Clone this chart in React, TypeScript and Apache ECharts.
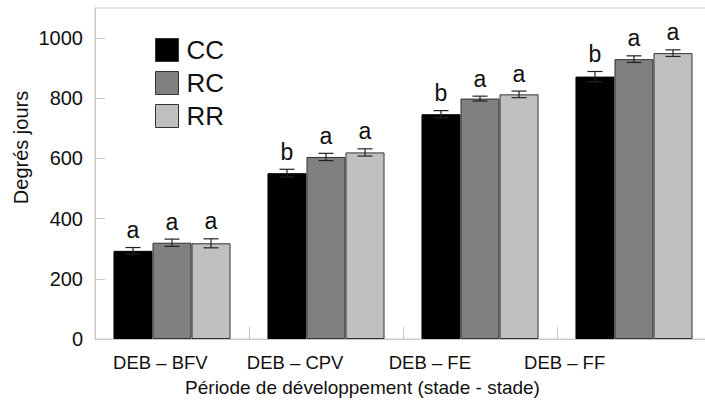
import React, { useEffect, useRef } from "react";
import * as echarts from "echarts";

const categories = ["DEB – BFV", "DEB – CPV", "DEB – FE", "DEB – FF"];
const seriesNames = ["CC", "RC", "RR"];
const ccValues = [293, 551, 747, 872];
const rcValues = [320, 605, 799, 930];
const rrValues = [318, 620, 813, 950];
const ccErrors = [11, 13, 12, 17];
const rcErrors = [12, 12, 8, 11];
const rrErrors = [15, 12, 11, 11];
const ccLetters = ["a", "b", "b", "b"];
const rcLetters = ["a", "a", "a", "a"];
const rrLetters = ["a", "a", "a", "a"];
const yTicks = [0, 200, 400, 600, 800, 1000];

const FONT = '"Liberation Sans", Arial, sans-serif';

export default function App() {
  const ref = useRef<HTMLDivElement>(null);
  useEffect(() => {
    document.body.style.margin = "0";
    if (!ref.current) return;
    const chart = echarts.init(ref.current, undefined, { renderer: "svg" });
    const values = [ccValues, rcValues, rrValues];
    const errors = [ccErrors, rcErrors, rrErrors];
    const letters = [ccLetters, rcLetters, rrLetters];
    const colors = ["#000000", "#808080", "#c0c0c0"];
    const errData: any[] = [];
    const errLetters: string[] = [];
    for (let s = 0; s < 3; s++) {
      for (let c = 0; c < categories.length; c++) {
        errData.push([c, values[s][c], errors[s][c], s]);
        errLetters.push(letters[s][c]);
      }
    }
    const option: any = {
      animation: false,
      textStyle: { fontFamily: FONT },
      grid: [
        { left: 95, top: 8, width: 616, height: 331, show: true, borderColor: "#cccccc", borderWidth: 1, backgroundColor: "transparent", outerBoundsMode: "none", containLabel: false },
        { left: 93, top: 8, width: 539, height: 331, show: false, outerBoundsMode: "none", containLabel: false },
      ],
      legend: {
        data: seriesNames,
        orient: "vertical",
        left: 155,
        top: 37,
        padding: 0,
        itemWidth: 23,
        itemHeight: 23,
        itemGap: 7,
        icon: "rect",
        itemStyle: { borderColor: "#333333", borderWidth: 1 },
        textStyle: { fontSize: 26, color: "#111", fontFamily: FONT, lineHeight: 23, padding: [0, 0, 0, 3] },
      },
      xAxis: [
        {
          type: "category",
          gridIndex: 0,
          data: categories,
          axisLine: { show: true, lineStyle: { color: "#c8c8c8", width: 1 } },
          axisTick: { show: true, inside: true, length: 12, lineStyle: { color: "#c8c8c8" } },
          axisLabel: { show: false },
        },
        {
          type: "category",
          gridIndex: 1,
          data: categories,
          axisLine: { show: false },
          axisTick: { show: false },
          axisLabel: { show: true, interval: 0, fontSize: 18.5, color: "#111", margin: 14, fontFamily: FONT },
          name: "Période de développement (stade - stade)",
          nameLocation: "middle",
          nameGap: 39,
          nameTextStyle: { fontSize: 19, color: "#111", fontFamily: FONT },
        },
      ],
      yAxis: [
        {
          type: "value",
          gridIndex: 0,
          min: 0,
          max: 1100,
          interval: 200,
          splitLine: { show: false },
          axisLine: { show: true, lineStyle: { color: "#c8c8c8", width: 1 } },
          axisTick: { show: true, inside: true, length: 10, lineStyle: { color: "#c8c8c8" }, customValues: yTicks },
          axisLabel: { fontSize: 20, color: "#111", margin: 12, fontFamily: FONT, customValues: yTicks, formatter: (v: number) => String(v) },
        },
        { type: "value", gridIndex: 1, min: 0, max: 1100, show: false },
      ],
      graphic: [
        {
          type: "text",
          x: 20.5,
          y: 147.5,
          rotation: Math.PI / 2,
          style: { text: "Degrés jours", fill: "#111", font: `20px ${FONT}`, align: "center", verticalAlign: "middle" },
        },
      ],
      series: [
        ...seriesNames.map((name, s) => ({
          name,
          type: "bar",
          xAxisIndex: 0,
          yAxisIndex: 0,
          data: values[s],
          barGap: "0%",
          barCategoryGap: "24%",
          itemStyle: { color: colors[s], borderColor: s === 0 ? "#000" : "#333333", borderWidth: 1 },
        })),
        {
          name: "err",
          type: "custom",
          xAxisIndex: 0,
          yAxisIndex: 0,
          z: 5,
          data: errData,
          encode: { x: 0, y: 1 },
          renderItem: (params: any, api: any) => {
            const c = api.value(0);
            const v = api.value(1);
            const e = api.value(2);
            const s = api.value(3);
            const center = api.coord([c, 0])[0];
            const band = api.size([1, 0])[0];
            const bw = (band * 0.76) / 3;
            const x = center + (s - 1) * bw;
            const yT = api.coord([c, v + e])[1];
            const yB = api.coord([c, v - e])[1];
            const hw = 7.5;
            const ls = { stroke: "#222", lineWidth: 1.2 };
            return {
              type: "group",
              children: [
                { type: "line", shape: { x1: x, y1: yT, x2: x, y2: yB }, style: ls },
                { type: "line", shape: { x1: x - hw, y1: yT, x2: x + hw, y2: yT }, style: ls },
                { type: "line", shape: { x1: x - hw, y1: yB, x2: x + hw, y2: yB }, style: ls },
                {
                  type: "text",
                  x: x,
                  y: yT - 6,
                  style: { text: errLetters[params.dataIndex], fill: "#111", font: `23px ${FONT}`, align: "center", verticalAlign: "bottom" },
                },
              ],
            };
          },
        },
      ],
    };
    chart.setOption(option);
    return () => chart.dispose();
  }, []);
  return <div ref={ref} style={{ width: 705, height: 405 }} />;
}
